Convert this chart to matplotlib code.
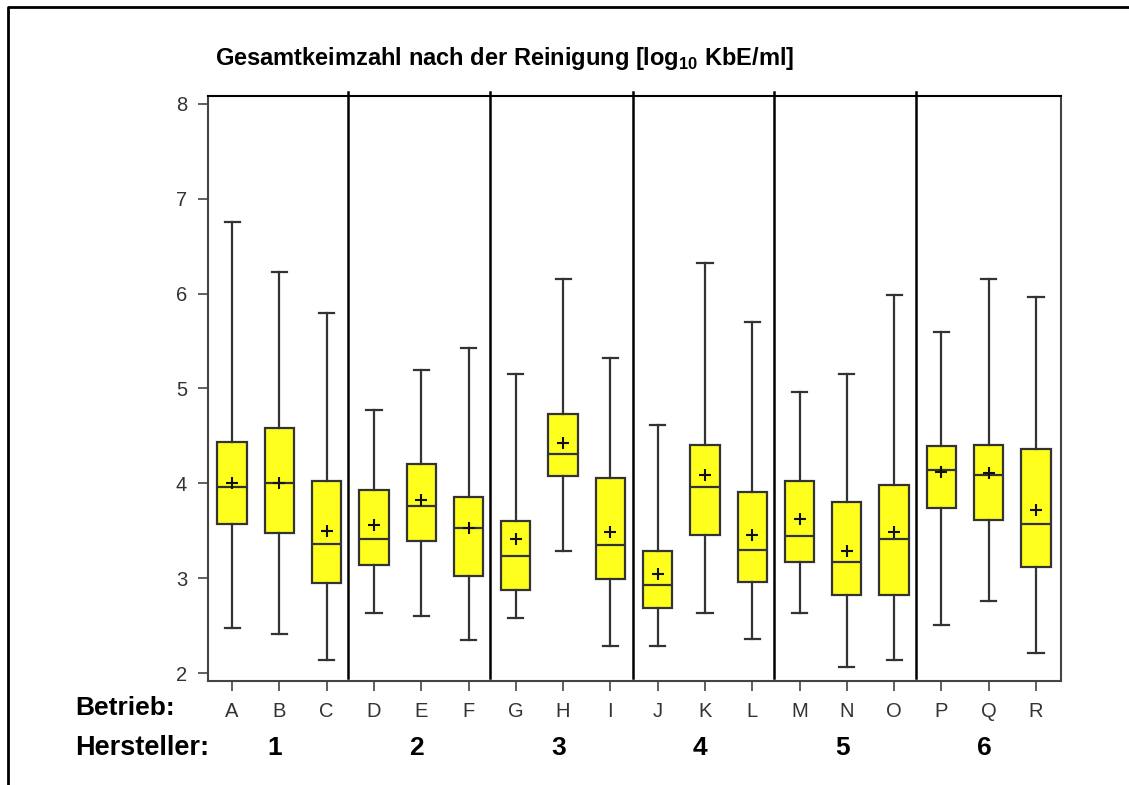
import numpy as np
import matplotlib
matplotlib.use('Agg')
import matplotlib.pyplot as plt
from matplotlib.lines import Line2D
import matplotlib.transforms as mtransforms

plt.rcParams['font.family'] = ['Liberation Sans', 'DejaVu Sans']
plt.rcParams['mathtext.fontset'] = 'custom'
plt.rcParams['mathtext.rm'] = 'Liberation Sans:bold'
plt.rcParams['mathtext.bf'] = 'Liberation Sans:bold'

# Daten
betrieb = list('ABCDEFGHIJKLMNOPQR')
hersteller = ['1', '2', '3', '4', '5', '6']
whislo = [2.48, 2.41, 2.14, 2.64, 2.60, 2.35, 2.58, 3.29, 2.29, 2.29, 2.64, 2.36, 2.64, 2.07, 2.14, 2.51, 2.76, 2.21]
q1     = [3.57, 3.48, 2.95, 3.14, 3.39, 3.03, 2.88, 4.08, 2.99, 2.69, 3.46, 2.96, 3.17, 2.83, 2.83, 3.74, 3.62, 3.12]
med    = [3.96, 4.00, 3.36, 3.41, 3.76, 3.53, 3.24, 4.31, 3.35, 2.93, 3.96, 3.30, 3.45, 3.17, 3.41, 4.14, 4.09, 3.57]
mean   = [4.01, 4.01, 3.50, 3.56, 3.83, 3.53, 3.41, 4.43, 3.49, 3.05, 4.09, 3.46, 3.63, 3.29, 3.49, 4.12, 4.11, 3.72]
q3     = [4.44, 4.58, 4.03, 3.93, 4.20, 3.86, 3.60, 4.73, 4.06, 3.29, 4.41, 3.91, 4.03, 3.81, 3.98, 4.39, 4.41, 4.36]
whishi = [6.75, 6.23, 5.80, 4.77, 5.20, 5.43, 5.15, 6.15, 5.32, 4.62, 6.32, 5.70, 4.96, 5.15, 5.98, 5.60, 6.15, 5.96]

stats = []
for i in range(len(betrieb)):
    stats.append(dict(label=betrieb[i], whislo=whislo[i], q1=q1[i], med=med[i],
                      mean=mean[i], q3=q3[i], whishi=whishi[i], fliers=[]))

fig = plt.figure(figsize=(11.29, 7.85), dpi=100)
ax = fig.add_axes([0.1842, 0.1325, 0.7556, 0.7452])

pos = np.arange(len(betrieb))
ec = '#333333'
ax.bxp(stats, positions=pos, widths=0.62, patch_artist=True, showmeans=True,
       showfliers=False,
       boxprops=dict(facecolor='#ffff1e', edgecolor=ec, linewidth=1.6),
       medianprops=dict(color=ec, linewidth=1.6),
       whiskerprops=dict(color=ec, linewidth=1.6),
       capprops=dict(color=ec, linewidth=1.6),
       capwidths=0.32,
       meanprops=dict(marker='+', markersize=9, markeredgecolor='#111111',
                      markeredgewidth=1.5))

# Trennlinien zwischen den Herstellern
for xv in [2.46, 5.46, 8.47, 11.47, 14.47]:
    ax.axvline(xv, ymin=0.005, ymax=1.006, color='black', linewidth=1.8, clip_on=False)

ax.set_xlim(-0.51, 17.53)
ax.set_ylim(1.92, 8.08)
ax.set_yticks([2, 3, 4, 5, 6, 7, 8])
ax.set_xticks(pos)
ax.set_xticklabels(betrieb)
ax.tick_params(axis='both', direction='out', length=7, width=1.2, colors='#444444',
               labelsize=14.5, labelcolor='#333333')
ax.tick_params(axis='x', pad=8)
ax.tick_params(axis='y', pad=8)
for s in ax.spines.values():
    s.set_color('#444444')
    s.set_linewidth(1.5)
ax.spines['top'].set_color('black')

# Beschriftungen
fig.text(215 / 1129, 1 - 58 / 785,
         'Gesamtkeimzahl nach der Reinigung [log$_{10}$ KbE/ml]',
         fontsize=17, fontweight='bold', ha='left', va='center')
fig.text(75 / 1129, 1 - 708 / 785, 'Betrieb:', fontsize=19, fontweight='bold',
         ha='left', va='center')
fig.text(75 / 1129, 1 - 748 / 785, 'Hersteller:', fontsize=19.5, fontweight='bold',
         ha='left', va='center')
trans = mtransforms.blended_transform_factory(ax.transData, fig.transFigure)
for k, h in enumerate(hersteller):
    fig.text(1 + 3 * k - 0.1, 1 - 748 / 785, h, transform=trans, fontsize=19,
             fontweight='bold', ha='center', va='center')

# äußerer Rahmen
W, H = 1129, 785
fig.add_artist(Line2D([8 / W, 8 / W, 1.0], [0.0, 1 - 7 / H, 1 - 7 / H],
                      transform=fig.transFigure, color='black', linewidth=2))

fig.savefig('out.png', dpi=100)
